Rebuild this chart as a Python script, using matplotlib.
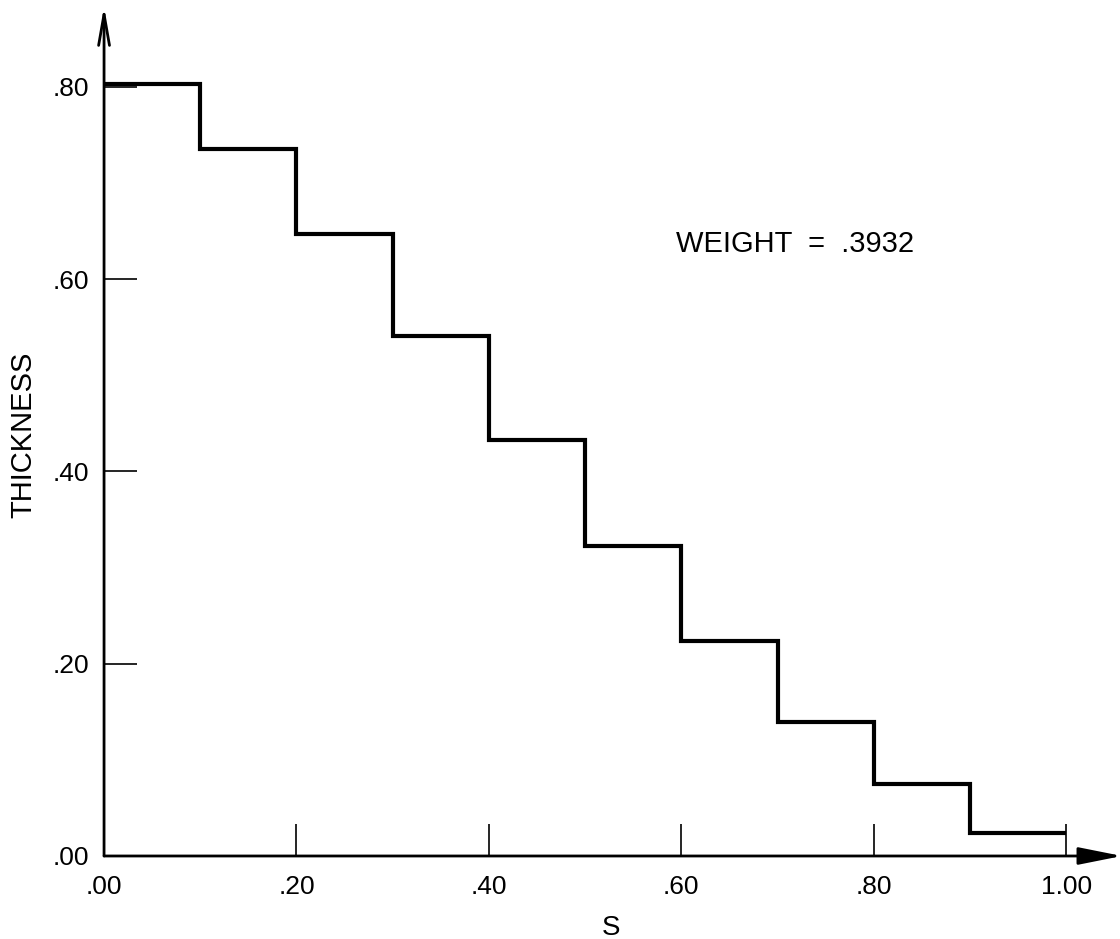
import matplotlib
matplotlib.use("Agg")
import matplotlib.pyplot as plt
import numpy as np

plt.rcParams['font.family'] = ['Liberation Sans', 'DejaVu Sans']

# step edges along S and the thickness on each segment
s_edges = [0.0, 0.1, 0.2, 0.3, 0.4, 0.5, 0.6, 0.7, 0.8, 0.9, 1.0]
thickness = [0.803, 0.735, 0.647, 0.541, 0.433, 0.323, 0.224, 0.139, 0.075, 0.024]

x_ticks = [0.0, 0.2, 0.4, 0.6, 0.8, 1.0]
x_ticklabels = ['.00', '.20', '.40', '.60', '.80', '1.00']
y_ticks = [0.0, 0.2, 0.4, 0.6, 0.8]
y_ticklabels = ['.00', '.20', '.40', '.60', '.80']
weight_text = "WEIGHT  =  .3932"

xmax = 1.054
ymax = 0.877

fig = plt.figure(figsize=(11.2, 9.39), dpi=100)
ax = fig.add_axes([0.0929, 0.0884, 0.9054, 0.8978])
ax.set_xlim(0, xmax)
ax.set_ylim(0, ymax)

for sp in ax.spines.values():
    sp.set_visible(False)

# axes drawn as arrows
ax.annotate('', xy=(xmax + 0.004, 0), xytext=(0, 0),
            arrowprops=dict(arrowstyle='-|>,head_length=1.9,head_width=0.38',
                            lw=2.0, color='black', shrinkA=0, shrinkB=0,
                            mutation_scale=14),
            annotation_clip=False)
ax.annotate('', xy=(0, ymax + 0.007), xytext=(0, 0),
            arrowprops=dict(arrowstyle='->,head_length=1.6,head_width=0.28',
                            lw=2.0, color='black', shrinkA=0, shrinkB=0,
                            mutation_scale=14),
            annotation_clip=False)

ax.stairs(thickness, s_edges, baseline=None, color='black', lw=3.0)

ax.set_xticks(x_ticks)
ax.set_xticklabels(x_ticklabels)
ax.set_yticks(y_ticks)
ax.set_yticklabels(y_ticklabels)
ax.tick_params(axis='x', direction='in', length=23, width=1.2, pad=14, labelsize=19)
ax.tick_params(axis='y', direction='in', length=24, width=1.2, pad=11, labelsize=19)

ax.set_xlabel('S', fontsize=20)
ax.xaxis.set_label_coords(0.5, -0.07)
ax.set_ylabel('THICKNESS', fontsize=21)
ax.yaxis.set_label_coords(-0.066, 0.5)

ax.text(0.594, 0.628, weight_text, fontsize=21, va='baseline', ha='left')

fig.savefig('out.png', dpi=100)
